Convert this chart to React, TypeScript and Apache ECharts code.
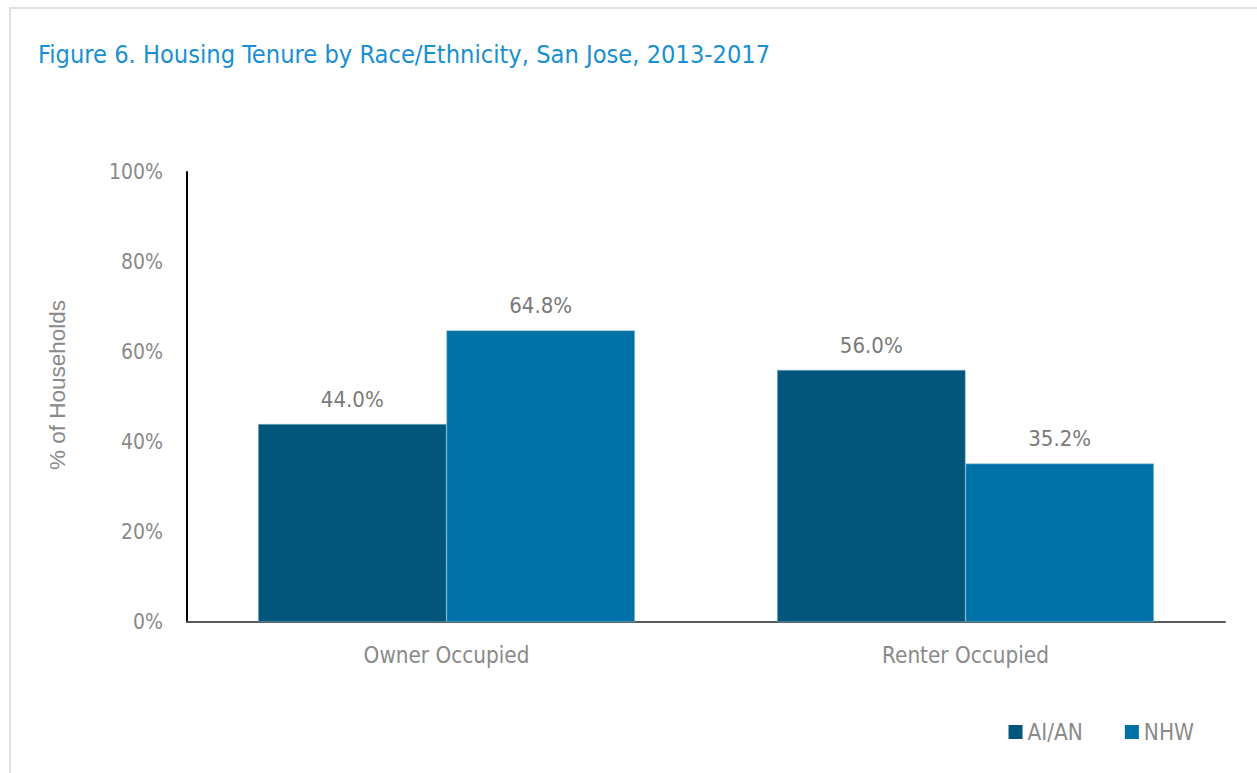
import React, { useEffect, useRef } from "react";
import * as echarts from "echarts";

const categories = ["Owner Occupied", "Renter Occupied"];
const seriesNames = ["AI/AN", "NHW"];
const aianValues = [44.0, 56.0];
const nhwValues = [64.8, 35.2];
const yTicks = [0, 20, 40, 60, 80, 100];

const NARROW = "'DejaVu Sans Condensed', 'Liberation Sans Narrow', sans-serif";
const REG = "'Liberation Sans', Arial, sans-serif";

export default function App() {
  const ref = useRef<HTMLDivElement>(null);
  useEffect(() => {
    if (!ref.current) return;
    const chart = echarts.init(ref.current, null, { renderer: "svg" });
    const labelCfg = {
      show: true,
      position: "top" as const,
      distance: 14,
      color: "#7a7a7a",
      fontFamily: NARROW,
      fontSize: 22,
      formatter: (p: any) => p.value.toFixed(1) + "%",
    };
    chart.setOption({
      animation: false,
      backgroundColor: "#ffffff",
      graphic: [
        {
          type: "rect",
          shape: { x: 10, y: 8, width: 1400, height: 900 },
          style: { fill: "none", stroke: "#e2e2e2", lineWidth: 2 },
          silent: true,
        },
      ],
      title: {
        text: "Figure 6. Housing Tenure by Race/Ethnicity, San Jose, 2013-2017",
        left: 33,
        top: 37,
        textStyle: { color: "#1a8fd3", fontFamily: NARROW, fontSize: 25.2, fontWeight: "normal" },
      },
      legend: {
        data: seriesNames,
        right: 58,
        top: 716,
        itemWidth: 14,
        itemHeight: 14,
        itemGap: 42,
        icon: "rect",
        itemStyle: { borderWidth: 0 },
        textStyle: { color: "#8a8a8a", fontFamily: NARROW, fontSize: 22.4 },
      },
      grid: { left: 187, right: 32, top: 172, bottom: 151, containLabel: false },
      xAxis: {
        type: "category",
        data: categories,
        axisLine: { lineStyle: { color: "#595959", width: 2 } },
        axisTick: { show: false },
        axisLabel: { color: "#8a8a8a", fontFamily: NARROW, fontSize: 22.3, margin: 22 },
      },
      yAxis: {
        type: "value",
        min: 0,
        max: 100,
        interval: 20,
        name: "% of Households",
        nameLocation: "middle",
        nameGap: 118,
        nameTextStyle: {
          color: "#8a8a8a",
          fontFamily: REG,
          fontSize: 22.5,
          padding: [0, 0, 0, 24],
        },
        axisLine: { show: true, lineStyle: { color: "#000000", width: 2 } },
        axisTick: { show: false },
        splitLine: { show: false },
        axisLabel: {
          color: "#8a8a8a",
          fontFamily: NARROW,
          fontSize: 21,
          margin: 24,
          formatter: (v: number) => (yTicks.includes(v) ? v + "%" : ""),
        },
      },
      series: [
        {
          name: seriesNames[0],
          type: "bar",
          data: aianValues,
          barGap: "0%",
          barCategoryGap: "27.4%",
          itemStyle: { color: "#02567b", borderColor: "#8fb6cc", borderWidth: 0.5 },
          label: labelCfg,
        },
        {
          name: seriesNames[1],
          type: "bar",
          data: nhwValues,
          itemStyle: { color: "#0172a7", borderColor: "#8fc0da", borderWidth: 0.5 },
          label: labelCfg,
        },
      ],
    });
    return () => chart.dispose();
  }, []);
  return (
    <div
      ref={ref}
      style={{ position: "fixed", left: 0, top: 0, width: 1257, height: 773, background: "#fff" }}
    />
  );
}
